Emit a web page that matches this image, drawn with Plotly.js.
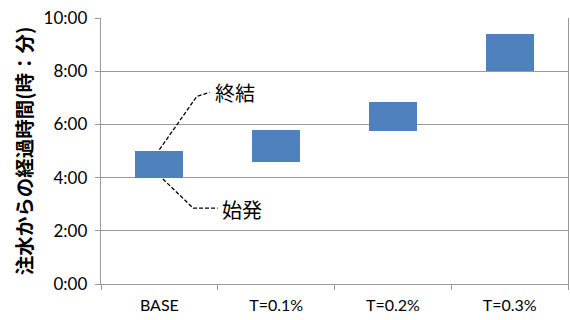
<!DOCTYPE html>
<html>
<head>
<meta charset="utf-8">
<script src="https://cdn.plot.ly/plotly-3.0.1.min.js"></script>
<style>
  html, body { margin: 0; padding: 0; background: #fff; }
  #chart { width: 570px; height: 320px; }
</style>
</head>
<body>
<div id="chart"></div>
<script>
// Elapsed time since water injection: start (始発) and end (終結) per case
const categories = ['BASE', 'T=0.1%', 'T=0.2%', 'T=0.3%'];
const startTimes = ['4:00', '4:35', '5:44', '8:00'];
const endTimes   = ['5:00', '5:47', '6:51', '9:23'];
const tickValues = [0, 2, 4, 6, 8, 10];
const tickLabels = ['0:00', '2:00', '4:00', '6:00', '8:00', '10:00'];
const labelEnd = '終結';
const labelStart = '始発';

// "H:MM" -> hours as a decimal number
function toHours(s) {
  const [h, m] = s.split(':').map(Number);
  return h + m / 60;
}

const base = startTimes.map(toHours);
const span = endTimes.map((e, i) => toHours(e) - base[i]);

const latin = 'Lato, "Noto Sans CJK JP", sans-serif';
const jp = '"Noto Sans CJK JP", sans-serif';

const trace = {
  type: 'bar',
  x: categories,
  y: span,
  base: base,
  width: 0.41,
  marker: { color: '#4f81bd', line: { width: 0 } },
  hoverinfo: 'skip'
};

// Leader lines from the BASE bar to its two callouts
const b0top = toHours(endTimes[0]);
const b0bot = toHours(startTimes[0]);
const dashed = { color: '#000', width: 1.3, dash: '4px,2px' };

const layout = {
  width: 570,
  height: 320,
  margin: { l: 101, r: 2, t: 18, b: 36 },
  paper_bgcolor: '#fff',
  plot_bgcolor: '#fff',
  showlegend: false,
  bargap: 0,
  xaxis: {
    type: 'category',
    showline: true,
    linecolor: '#9a9a9a',
    linewidth: 1.3,
    ticks: 'outside',
    tickson: 'boundaries',
    ticklen: 5,
    tickcolor: '#9a9a9a',
    showgrid: false,
    ticklabelstandoff: 6,
    tickfont: { family: latin, size: 16, color: '#000' },
    fixedrange: true
  },
  yaxis: {
    range: [0, 10],
    tickvals: tickValues,
    ticktext: tickLabels,
    showline: true,
    mirror: true,
    linecolor: '#9a9a9a',
    linewidth: 1.3,
    ticks: 'outside',
    ticklen: 5,
    tickcolor: '#9a9a9a',
    gridcolor: '#9a9a9a',
    gridwidth: 1.3,
    zeroline: false,
    ticklabelstandoff: 4,
    tickfont: { family: latin, size: 17, color: '#000' },
    title: {
      text: '注水からの経過時間(時：分)',
      font: { family: jp, size: 19.5, color: '#000', weight: 'bold' },
      standoff: 5
    },
    fixedrange: true
  },
  shapes: [
    {
      type: 'path', xref: 'x', yref: 'y',
      path: `M 0.0,${b0top + 0.05} L 0.32,${b0top + 2.05} L 0.43,${b0top + 2.2}`,
      line: dashed
    },
    {
      type: 'path', xref: 'x', yref: 'y',
      path: `M 0.03,${b0bot - 0.05} L 0.29,${b0bot - 1.15} L 0.5,${b0bot - 1.15}`,
      line: dashed
    }
  ],
  annotations: [
    {
      x: 0.46, y: b0top + 2.2, xref: 'x', yref: 'y',
      xanchor: 'left', yanchor: 'middle', showarrow: false,
      text: labelEnd, font: { family: jp, size: 20, color: '#000' }
    },
    {
      x: 0.52, y: b0bot - 1.2, xref: 'x', yref: 'y',
      xanchor: 'left', yanchor: 'middle', showarrow: false,
      text: labelStart, font: { family: jp, size: 20, color: '#000' }
    }
  ]
};

Plotly.newPlot('chart', [trace], layout, { displayModeBar: false, staticPlot: true });
</script>
</body>
</html>
